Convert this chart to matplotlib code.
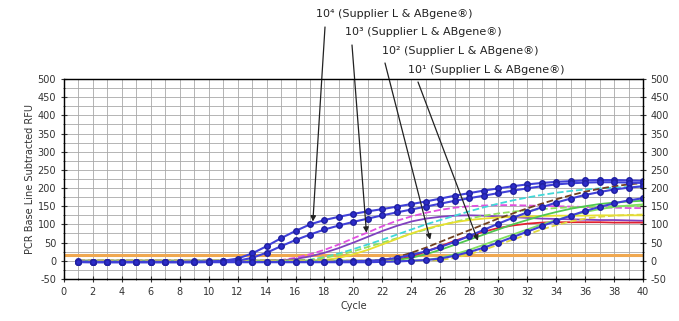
import matplotlib
matplotlib.use("Agg")
import matplotlib.pyplot as plt
from matplotlib.ticker import MultipleLocator

plt.rcParams["axes.unicode_minus"] = False

cycles = list(range(1, 41))

# 10^4 (blue, markers)
b4_upper = [-2, -3, -3, -3, -3, -3, -3, -3, -2, -2, 0, 6, 20, 40, 62, 82, 100, 112, 121, 129,
            136, 142, 149, 156, 163, 171, 179, 186, 193, 199, 205, 210, 214, 217, 219, 221, 222, 222, 221, 220]
b4_lower = [-3, -4, -4, -4, -4, -4, -4, -4, -4, -3, -2, 0, 8, 22, 40, 57, 72, 86, 97, 107,
            116, 125, 133, 141, 149, 157, 165, 172, 179, 186, 193, 199, 205, 210, 213, 215, 216, 216, 215, 214]
# 10^3
m3 = [0, 0, 0, 0, 0, 0, 0, 0, 0, 0, 0, 0, 0, 0, 2, 8, 18, 30, 45, 62,
      78, 95, 110, 122, 132, 140, 146, 150, 152, 153, 153, 152, 151, 150, 149, 148, 147, 146, 145, 145]
p3 = [0, 0, 0, 0, 0, 0, 0, 0, 0, 0, 0, 0, 0, 0, 1, 5, 12, 22, 35, 50,
      66, 82, 96, 108, 116, 121, 124, 125, 124, 122, 120, 118, 116, 115, 114, 113, 112, 112, 111, 110]
c3 = [0, 0, 0, 0, 0, 0, 0, 0, 0, 0, 0, 0, 0, 0, 0, 0, 3, 10, 20, 32,
      45, 58, 72, 86, 100, 112, 124, 136, 147, 157, 166, 174, 181, 187, 192, 196, 199, 201, 203, 204]
g3 = [0, 0, 0, 0, 0, 0, 0, 0, 0, 0, 0, 0, 0, 0, 0, 0, 2, 8, 16, 26,
      38, 50, 62, 74, 86, 97, 107, 116, 124, 130, 135, 139, 142, 145, 147, 148, 149, 150, 150, 150]
y3 = [0, 0, 0, 0, 0, 0, 0, 0, 0, 0, 0, 0, 0, 0, 0, 0, 0, 2, 8, 18,
      30, 45, 60, 75, 88, 98, 106, 112, 116, 119, 121, 122, 123, 124, 124, 124, 125, 125, 125, 125]
# 10^2
b2 = [-3, -3, -3, -3, -3, -3, -3, -3, -3, -3, -3, -3, -3, -3, -3, -3, -3, -3, -2, -1,
      0, 2, 8, 16, 26, 38, 52, 68, 85, 102, 118, 133, 147, 160, 171, 181, 189, 196, 201, 205]
r2 = [0, 0, 0, 0, 0, 0, 0, 0, 0, 0, 0, 0, 0, 0, 0, 0, 0, 0, 0, 0,
      0, 2, 10, 22, 36, 52, 68, 84, 100, 116, 130, 144, 157, 169, 180, 190, 198, 205, 210, 214]
red2 = [0, 0, 0, 0, 0, 0, 0, 0, 0, 0, 0, 0, 0, 0, 0, 0, 0, 0, 0, 0,
        0, 0, 3, 12, 25, 40, 55, 68, 80, 90, 97, 102, 105, 106, 106, 106, 106, 105, 105, 105]
g2 = [0, 0, 0, 0, 0, 0, 0, 0, 0, 0, 0, 0, 0, 0, 0, 0, 0, 0, 0, 0,
      0, 0, 2, 8, 18, 30, 44, 58, 72, 86, 100, 112, 124, 134, 143, 150, 156, 160, 163, 165]
# 10^1
b1 = [-4, -4, -4, -4, -4, -4, -4, -4, -4, -4, -4, -4, -4, -4, -4, -4, -4, -4, -4, -4,
      -4, -3, -2, 0, 2, 6, 14, 24, 36, 50, 65, 80, 95, 110, 124, 137, 148, 158, 166, 172]
g1 = [0, 0, 0, 0, 0, 0, 0, 0, 0, 0, 0, 0, 0, 0, 0, 0, 0, 0, 0, 0,
      0, 0, 0, 0, 2, 8, 18, 30, 44, 58, 72, 86, 100, 112, 124, 134, 142, 148, 152, 155]
y1 = [0, 0, 0, 0, 0, 0, 0, 0, 0, 0, 0, 0, 0, 0, 0, 0, 0, 0, 0, 0,
      0, 0, 0, 0, 0, 2, 8, 18, 30, 44, 58, 72, 86, 98, 108, 116, 121, 124, 126, 127]
threshold = 15

labels = ["10⁴ (Supplier L & ABgene®)", "10³ (Supplier L & ABgene®)",
          "10² (Supplier L & ABgene®)", "10¹ (Supplier L & ABgene®)"]
arrow_tips = [(17.2, 108), (20.9, 77), (25.3, 58), (28.6, 55)]

fig = plt.figure(figsize=(6.79, 3.21), dpi=100)
ax = fig.add_axes([0.094, 0.131, 0.853, 0.623])

ax.axhline(threshold, color="#f0a850", lw=2.2, zorder=2)

thin = [(m3, "#e050e0", "--"), (p3, "#8040c0", "-"), (c3, "#40d8d8", "--"),
        (g3, "#90e060", "--"), (y3, "#e8e030", "-"), (r2, "#704020", "--"),
        (red2, "#e02030", "-"), (g2, "#50c850", "-"), (g1, "#80e060", "-"),
        (y1, "#e0d840", "--")]
for vals, col, ls in thin:
    ax.plot(cycles, vals, color=col, lw=1.3, ls=ls, zorder=3)

for vals in [b4_upper, b4_lower, b2, b1]:
    ax.plot(cycles, vals, color="#4040d8", lw=1.5, marker="o", ms=4,
            mfc="#2c2cc8", mec="#2020a0", zorder=4)

ax.set_xlim(0, 40)
ax.set_ylim(-50, 500)
ax.xaxis.set_major_locator(MultipleLocator(2))
ax.xaxis.set_minor_locator(MultipleLocator(1))
ax.yaxis.set_major_locator(MultipleLocator(50))
ax.yaxis.set_minor_locator(MultipleLocator(25))
ax.grid(True, which="both", color="#a8a8a8", lw=0.6)
ax.set_axisbelow(True)
ax.tick_params(which="both", direction="inout", labelsize=7, colors="#333333", length=4)
ax.tick_params(which="minor", length=2)
for s in ax.spines.values():
    s.set_linewidth(1.0)
    s.set_color("#222222")

ax2 = ax.twinx()
ax2.set_ylim(-50, 500)
ax2.yaxis.set_major_locator(MultipleLocator(50))
ax2.yaxis.set_minor_locator(MultipleLocator(25))
ax2.tick_params(which="both", direction="inout", labelsize=7, colors="#333333", length=4)
ax2.tick_params(which="minor", length=2)

ax.set_xlabel("Cycle", fontsize=7, color="#333333", labelpad=3)
ax.set_ylabel("PCR Base Line Subtracted RFU", fontsize=7, color="#333333", labelpad=2)

text_pos = [(316, 307), (345, 289), (382, 270), (408, 251)]
arrow_start = [(325, 294), (352, 276), (385, 258), (418, 239)]
for lab, (tx, ty), start, tip in zip(labels, text_pos, arrow_start, arrow_tips):
    fig.text(tx / 679, ty / 321, lab, fontsize=8, color="#222222", va="center", ha="left")
    ax.annotate("", xy=tip, xycoords="data", xytext=start, textcoords="figure pixels",
                arrowprops=dict(arrowstyle="-|>", color="#222222", lw=0.9,
                                mutation_scale=8, shrinkA=0, shrinkB=0), zorder=6)

fig.savefig("out.png", dpi=100)
